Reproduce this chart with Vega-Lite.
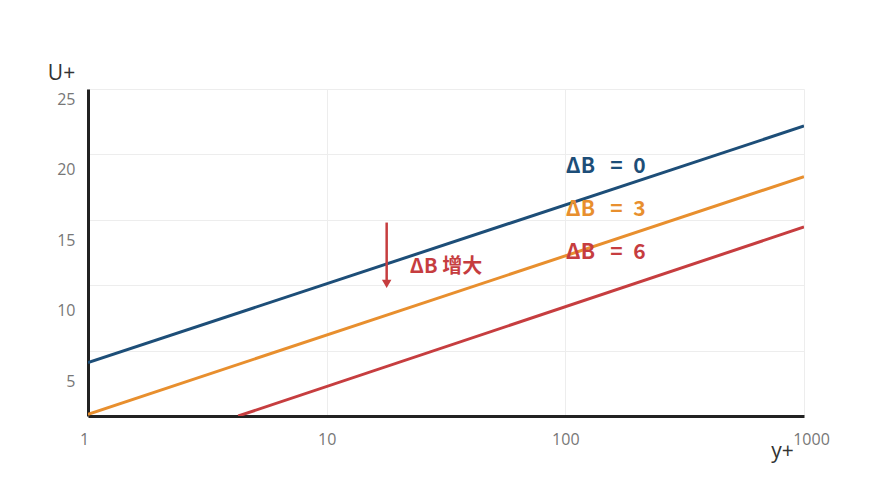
{
  "$schema": "https://vega.github.io/schema/vega-lite/v6.json",
  "width": 716,
  "height": 327,
  "autosize": {"type": "none"},
  "padding": {"left": 88, "top": 89, "right": 89, "bottom": 87},
  "background": "white",
  "config": {
    "view": {"stroke": null},
    "font": "Open Sans"
  },
  "datasets": {
    "lines": [
      {"series": "dB0", "yplus": 1, "uplus": 4.08},
      {"series": "dB0", "yplus": 1000, "uplus": 22.17},
      {"series": "dB3", "yplus": 1, "uplus": 0.13},
      {"series": "dB3", "yplus": 1000, "uplus": 18.3},
      {"series": "dB6", "yplus": 4.26, "uplus": 0},
      {"series": "dB6", "yplus": 1000, "uplus": 14.45}
    ],
    "labels": [
      {"series": "dB0", "yplus": 100.5, "uplus": 19.05, "text": "ΔB\u2002\u00a0=\u20020", "size": 21},
      {"series": "dB3", "yplus": 100.5, "uplus": 15.72, "text": "ΔB\u2002\u00a0=\u20023", "size": 21},
      {"series": "dB6", "yplus": 100.5, "uplus": 12.46, "text": "ΔB\u2002\u00a0=\u20026", "size": 21},
      {"series": "dB6", "yplus": 22.3, "uplus": 11.4, "text": "ΔB 增大", "size": 20}
    ],
    "arrow": [
      {"yplus": 17.84, "top": 14.79, "bottom": 10.4, "head": 10.1}
    ]
  },
  "layer": [
    {
      "data": {"name": "lines"},
      "mark": {"type": "line", "strokeWidth": 3, "clip": true},
      "encoding": {
        "x": {
          "field": "yplus",
          "type": "quantitative",
          "scale": {"type": "log", "domain": [1, 1000]},
          "axis": {
            "values": [1, 10, 100, 1000],
            "format": "d",
            "title": "y+",
            "titleX": 694,
            "titleY": 35,
            "titleAlign": "center",
            "titleBaseline": "middle",
            "titleFontSize": 21,
            "titleFontWeight": "normal",
            "titleColor": "#333333",
            "labelFontSize": 16,
            "labelColor": "#777777",
            "labelPadding": 15,
            "labelFlush": false,
            "labelOverlap": false,
            "labelOffset": {"expr": "datum.value == 1 ? -4 : datum.value == 1000 ? 7 : 0"},
            "ticks": false,
            "domainColor": "#222222",
            "domainWidth": 3,
            "gridColor": "#ededed",
            "gridWidth": 1
          }
        },
        "y": {
          "field": "uplus",
          "type": "quantitative",
          "scale": {"domain": [0, 25], "nice": false, "zero": false},
          "axis": {
            "values": [5, 10, 15, 20, 25],
            "title": "U+",
            "titleAngle": 0,
            "titleX": -27,
            "titleY": -16,
            "titleAlign": "center",
            "titleBaseline": "middle",
            "titleFontSize": 21,
            "titleFontWeight": "normal",
            "titleColor": "#333333",
            "labelFontSize": 16,
            "labelColor": "#777777",
            "labelPadding": 13,
            "labelOffset": {"expr": "35.5 - datum.value"},
            "ticks": false,
            "domainColor": "#222222",
            "domainWidth": 3,
            "gridColor": "#ededed",
            "gridWidth": 1
          }
        },
        "detail": {"field": "series"},
        "color": {
          "field": "series",
          "type": "nominal",
          "scale": {"domain": ["dB0", "dB3", "dB6"], "range": ["#1d4e78", "#e88f2e", "#c63d3f"]},
          "legend": null
        }
      }
    },
    {
      "data": {"name": "labels"},
      "mark": {"type": "text", "align": "left", "baseline": "middle", "font": "Noto Sans CJK SC", "fontWeight": "bold"},
      "encoding": {
        "x": {"field": "yplus", "type": "quantitative"},
        "y": {"field": "uplus", "type": "quantitative"},
        "text": {"field": "text"},
        "size": {"field": "size", "type": "quantitative", "scale": null},
        "color": {"field": "series", "type": "nominal", "legend": null}
      }
    },
    {
      "data": {"name": "arrow"},
      "mark": {"type": "rule", "strokeWidth": 2.5, "color": "#c63d3f"},
      "encoding": {
        "x": {"field": "yplus", "type": "quantitative"},
        "y": {"field": "top", "type": "quantitative"},
        "y2": {"field": "bottom"}
      }
    },
    {
      "data": {"name": "arrow"},
      "mark": {"type": "point", "shape": "triangle-down", "filled": true, "size": 90, "color": "#c63d3f", "opacity": 1},
      "encoding": {
        "x": {"field": "yplus", "type": "quantitative"},
        "y": {"field": "head", "type": "quantitative"}
      }
    }
  ]
}
